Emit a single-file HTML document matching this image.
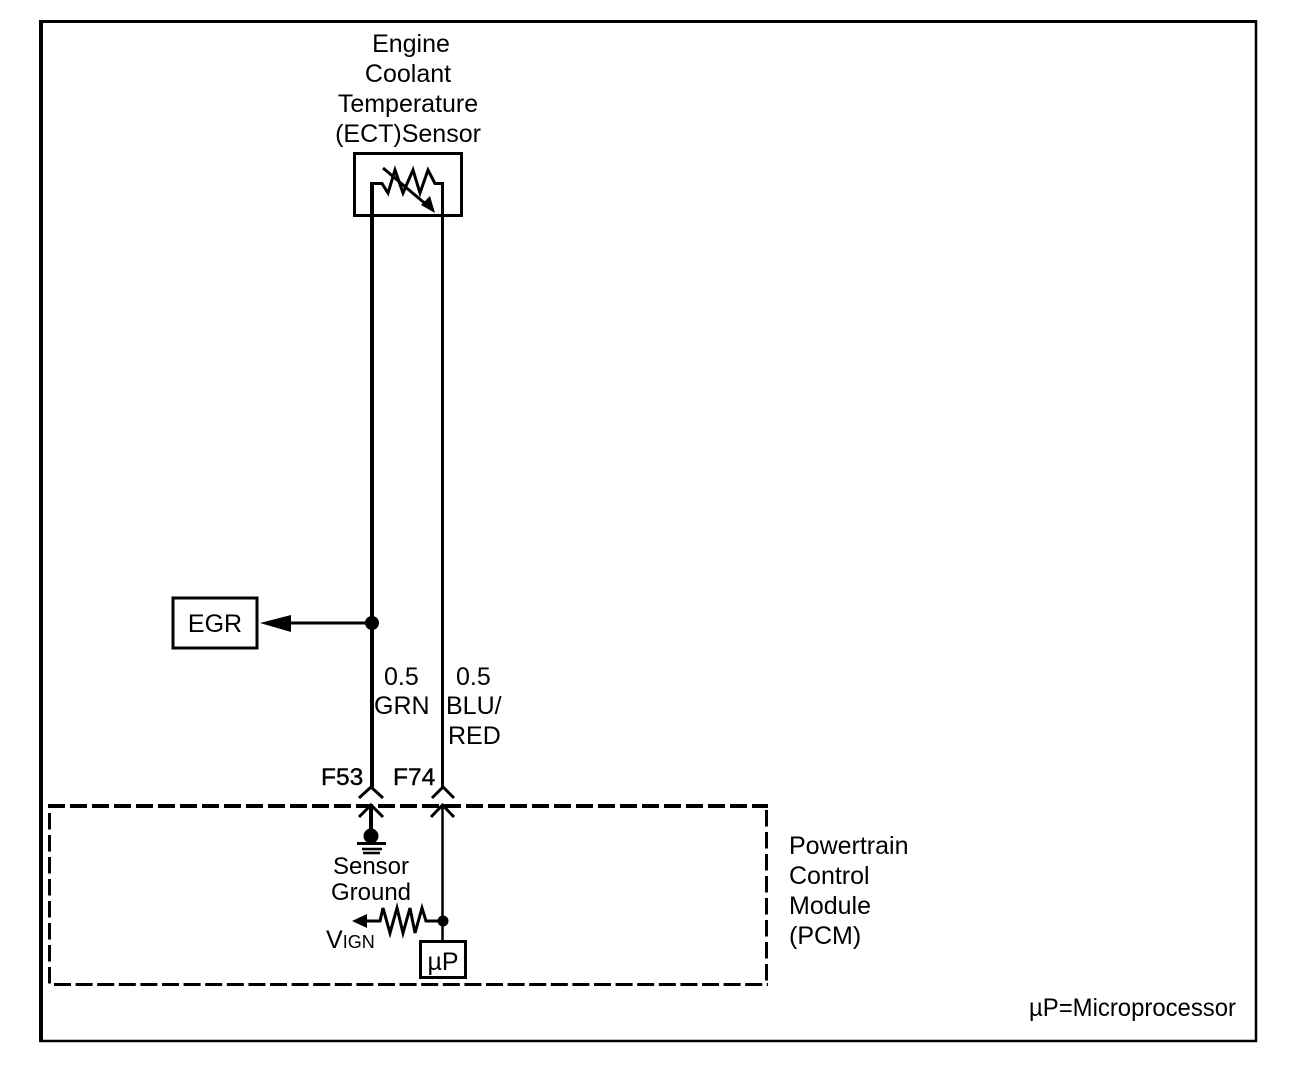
<!DOCTYPE html>
<html>
<head>
<meta charset="utf-8">
<style>
html,body{margin:0;padding:0;background:#fff;width:1312px;height:1074px;overflow:hidden}
svg{display:block}
text{font-family:"Liberation Sans",sans-serif;font-size:25px;fill:#000}
</style>
</head>
<body>
<svg width="1312" height="1074" viewBox="0 0 1312 1074" xmlns="http://www.w3.org/2000/svg">
<!-- frame -->
<path d="M41 21.500H1256V1041H41Z" fill="none" stroke="#000" stroke-width="2.500"/>
<path d="M41 20V1042" stroke="#000" stroke-width="4"/>
<path d="M39 21.500H1257" stroke="#000" stroke-width="3"/>

<!-- title -->
<g text-anchor="middle">
<text x="411" y="52">Engine</text>
<text x="408" y="82">Coolant</text>
<text x="408" y="112">Temperature</text>
<text x="408" y="142">(ECT)Sensor</text>
</g>

<!-- sensor box -->
<rect x="354.500" y="153.500" width="107" height="62" fill="none" stroke="#000" stroke-width="3"/>
<!-- resistor -->
<path d="M372 183.500H382L388 193L395 170L403 193L413 170L420 193L428 170L435 183.500H443" fill="none" stroke="#000" stroke-width="3"/>
<path d="M383 168L428 206" fill="none" stroke="#000" stroke-width="3"/>
<path d="M435 213L421 205L430 196Z" fill="#000"/>

<!-- wires -->
<path d="M372 182V788" stroke="#000" stroke-width="4" fill="none"/>
<path d="M442.500 182V788" stroke="#000" stroke-width="3" fill="none"/>

<!-- EGR -->
<rect x="173" y="598" width="84" height="50" fill="none" stroke="#000" stroke-width="3"/>
<text x="215" y="632" text-anchor="middle">EGR</text>
<path d="M372 623H285" stroke="#000" stroke-width="3"/>
<path d="M260 623L291 615V632Z" fill="#000"/>
<circle cx="372" cy="623" r="7" fill="#000"/>

<!-- wire labels -->
<text x="384" y="685">0.5</text>
<text x="374" y="714">GRN</text>
<text x="456" y="685">0.5</text>
<text x="446" y="714">BLU/</text>
<text x="448" y="744">RED</text>
<text x="321" y="785" style="font-size:24.500px;stroke:#000;stroke-width:.4">F53</text>
<text x="393" y="785" style="font-size:24.500px;stroke:#000;stroke-width:.4">F74</text>

<!-- PCM dashed box -->
<path d="M48 806H768" fill="none" stroke="#000" stroke-width="4" stroke-dasharray="17 5"/>
<path d="M54 984.500H768" fill="none" stroke="#000" stroke-width="3" stroke-dasharray="17 4.600"/>
<path d="M49.500 813V984" fill="none" stroke="#000" stroke-width="3" stroke-dasharray="16.500 5.500"/>
<path d="M766.500 810V985" fill="none" stroke="#000" stroke-width="3" stroke-dasharray="16.500 5.500"/>

<!-- connectors -->
<g fill="none" stroke="#000" stroke-width="3">
<path d="M359 798L371 787L383 798"/>
<path d="M432 798L443 787L454 798"/>
<path d="M359 817L371 805L383 817"/>
<path d="M431 817L442.500 805L454 817"/>
</g>
<path d="M371 806V832" stroke="#000" stroke-width="4"/>
<path d="M442.500 806V942" stroke="#000" stroke-width="2.500"/>

<!-- ground -->
<circle cx="371" cy="836" r="7.500" fill="#000"/>
<path d="M357 843.500H386" stroke="#000" stroke-width="3"/>
<path d="M362 849H382" stroke="#000" stroke-width="2.500"/>
<path d="M363 853H380" stroke="#000" stroke-width="2.500"/>
<text x="371" y="874" text-anchor="middle" style="font-size:24px">Sensor</text>
<text x="371" y="900" text-anchor="middle" style="font-size:24px">Ground</text>

<!-- pull-up -->
<path d="M443 921H426L422 908L415 933L410 908L403 933L397 908L390 933L383 908L380 921H362" fill="none" stroke="#000" stroke-width="3"/>
<path d="M352 921L367 914V928Z" fill="#000"/>
<circle cx="443" cy="921" r="5.500" fill="#000"/>
<text x="326" y="948" style="font-size:25px">V<tspan style="font-size:18px">IGN</tspan></text>

<!-- uP -->
<rect x="420.500" y="941.500" width="45" height="36" fill="#fff" stroke="#000" stroke-width="3"/>
<text x="443" y="970" text-anchor="middle">µP</text>

<!-- PCM label -->
<text x="789" y="854">Powertrain</text>
<text x="789" y="884">Control</text>
<text x="789" y="914">Module</text>
<text x="789" y="944">(PCM)</text>

<text x="1029" y="1016" textLength="207" lengthAdjust="spacingAndGlyphs">µP=Microprocessor</text>
</svg>
</body>
</html>
